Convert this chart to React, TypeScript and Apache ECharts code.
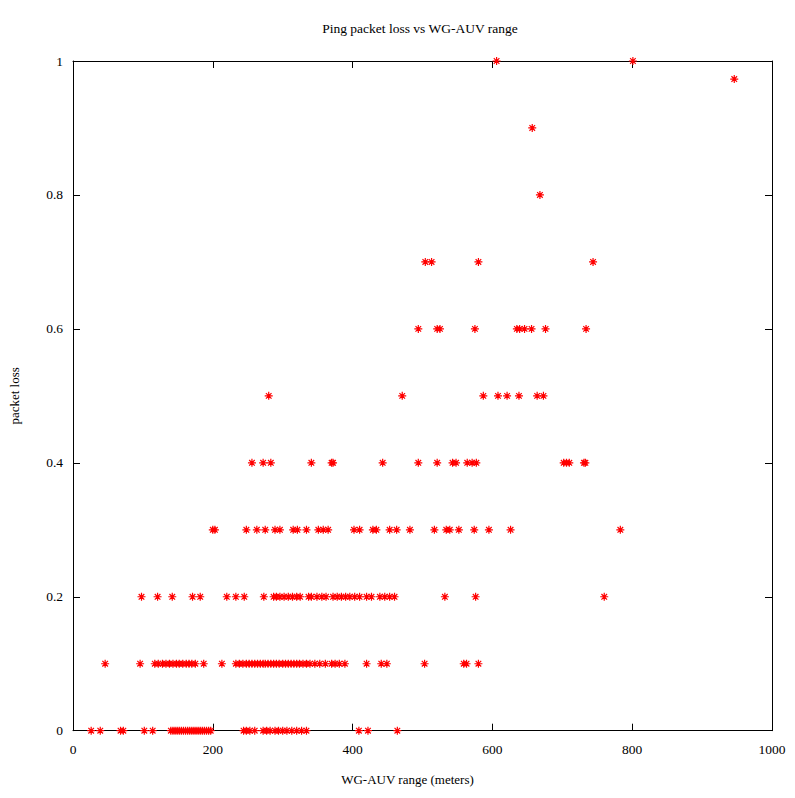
import React, { useEffect, useRef } from "react";
import * as echarts from "echarts";

// x values (WG-AUV range, meters) grouped by packet loss level
const loss00 = [26, 39, 68, 72, 102, 114, 140, 143, 146, 149, 152, 155, 158, 161, 164, 167, 170, 173, 176, 179, 182, 185, 188, 191, 194, 197, 244, 248, 253, 260, 272, 277, 282, 289, 294, 300, 306, 313, 320, 327, 334, 409, 422, 464];
const loss01 = [46, 96, 117, 122, 128, 133, 138, 143, 148, 152, 157, 162, 166, 170, 175, 187, 213, 233, 238, 243, 248, 252, 256, 260, 264, 268, 272, 275, 279, 283, 287, 291, 295, 300, 304, 308, 312, 316, 320, 324, 329, 334, 339, 346, 353, 361, 370, 375, 381, 389, 420, 441, 449, 503, 559, 563, 580];
const loss02 = [98, 121, 142, 171, 182, 220, 233, 245, 273, 287, 291, 296, 302, 308, 314, 320, 325, 337, 341, 349, 356, 362, 372, 378, 384, 390, 396, 403, 410, 420, 427, 439, 446, 453, 460, 532, 576, 760];
const loss03 = [200, 203, 248, 263, 275, 289, 296, 315, 321, 334, 351, 358, 365, 402, 410, 429, 434, 453, 463, 482, 517, 534, 539, 552, 574, 595, 626, 783];
const loss04 = [256, 272, 283, 341, 370, 372, 443, 494, 521, 543, 548, 564, 571, 577, 702, 706, 710, 731, 733];
const loss05 = [280, 471, 587, 608, 621, 638, 664, 673];
const loss06 = [494, 521, 525, 575, 635, 639, 646, 656, 676, 734];
const loss07 = [504, 513, 580, 744];
const loss08 = [668];
const loss09 = [657];
const loss097 = [946];
const loss10 = [606, 801];

const groups: [number, number[]][] = [
  [0, loss00],
  [0.1, loss01],
  [0.2, loss02],
  [0.3, loss03],
  [0.4, loss04],
  [0.5, loss05],
  [0.6, loss06],
  [0.7, loss07],
  [0.8, loss08],
  [0.9, loss09],
  [0.973, loss097],
  [1, loss10],
];

const points: number[][] = [];
groups.forEach(([y, xs]) => xs.forEach((x) => points.push([x, y])));

const FONT = "Liberation Serif";
const txt = { fontFamily: FONT, fontSize: 13.5, color: "#000" };

export default function App() {
  const ref = useRef<HTMLDivElement>(null);
  useEffect(() => {
    if (!ref.current) return;
    const chart = echarts.init(ref.current, undefined, { renderer: "svg" });
    const mkLine = () => ({ show: true, onZero: false, lineStyle: { color: "#000", width: 1 } });
    const mkTick = () => ({ show: true, inside: true, length: 7, lineStyle: { color: "#000", width: 1 } });
    const xCommon = () => ({ type: "value", min: 0, max: 1000, interval: 200, axisLine: mkLine(), axisTick: mkTick(), splitLine: { show: false } });
    const yCommon = () => ({ type: "value", min: 0, max: 1, interval: 0.2, axisLine: mkLine(), axisTick: mkTick(), splitLine: { show: false } });
    chart.setOption({
      animation: false,
      backgroundColor: "#fff",
      grid: { left: 72.7, right: 23, top: 61, bottom: 67.3, containLabel: false },
      graphic: [
        {
          type: "text",
          x: 420,
          y: 28,
          style: { text: "Ping packet loss vs WG-AUV range", textAlign: "center", textVerticalAlign: "middle", font: `13.5px "${FONT}"`, fill: "#000" },
        },
      ],
      xAxis: [
        {
          ...xCommon(),
          position: "bottom",
          axisLabel: { ...txt, margin: 12, formatter: (v: number) => String(v) },
          name: "WG-AUV range (meters)",
          nameLocation: "middle",
          nameGap: 42,
          nameTextStyle: { ...txt, fontSize: 13, padding: [0, 30, 0, 0] },
        },
        { ...xCommon(), position: "top", axisLabel: { show: false } },
      ],
      yAxis: [
        {
          ...yCommon(),
          position: "left",
          axisLabel: { ...txt, margin: 10, formatter: (v: number) => String(v) },
          name: "packet loss",
          nameLocation: "middle",
          nameGap: 52,
          nameTextStyle: { ...txt, fontSize: 13 },
        },
        { ...yCommon(), position: "right", axisLabel: { show: false } },
      ],
      series: [
        {
          type: "scatter",
          xAxisIndex: 0,
          yAxisIndex: 0,
          data: points,
          symbol: "path://M0,4L8,4M4,0L4,8M1.2,1.2L6.8,6.8M6.8,1.2L1.2,6.8",
          symbolSize: 8,
          itemStyle: { color: "rgba(0,0,0,0)", borderColor: "#ff0000", borderWidth: 1.2, opacity: 1 },
          emphasis: { disabled: true },
        },
      ],
    });
    return () => chart.dispose();
  }, []);
  return <div ref={ref} style={{ position: "fixed", left: 0, top: 0, width: 795, height: 798 }} />;
}
